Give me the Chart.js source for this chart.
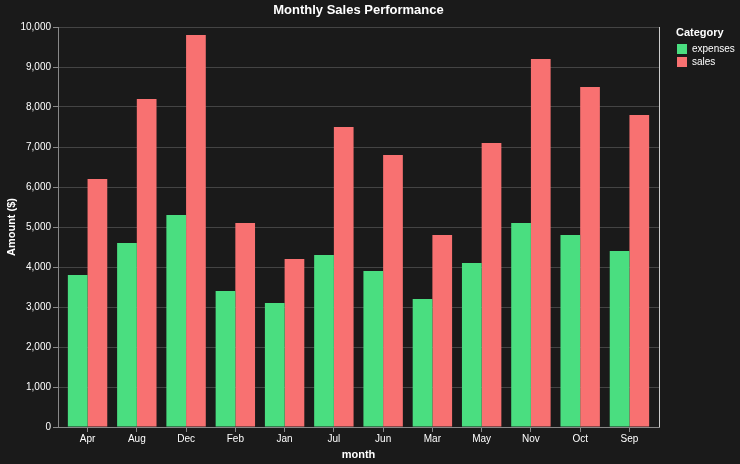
<!DOCTYPE html>
<html>
<head>
<meta charset="utf-8">
<script src="https://cdn.jsdelivr.net/npm/chart.js@4"></script>
<style>
    html, body { margin: 0; padding: 0; background: #1a1a1a; }
    #wrap { width: 740px; height: 464px; position: relative; }
</style>
</head>
<body>
<div id="wrap"><canvas id="myChart"></canvas></div>
<script>
const months = ['Apr', 'Aug', 'Dec', 'Feb', 'Jan', 'Jul', 'Jun', 'Mar', 'May', 'Nov', 'Oct', 'Sep'];
const expenses = [3800, 4600, 5300, 3400, 3100, 4300, 3900, 3200, 4100, 5100, 4800, 4400];
const sales = [6200, 8200, 9800, 5100, 4200, 7500, 6800, 4800, 7100, 9200, 8500, 7800];

const titleText = 'Monthly Sales Performance';
const legendTitle = 'Category';
const fontFamily = 'Arial, "Liberation Sans", sans-serif';

// posición de cada mes en el eje x (escala lineal para dejar margen exterior)
const monthIndex = months.map(function(m, i) { return i; });

// título centrado sobre el área, leyenda a la derecha y borde derecho claro
const decorations = {
    id: 'decorations',
    afterDraw(chart) {
        const a = chart.chartArea;
        const ctx = chart.ctx;
        ctx.save();
        ctx.strokeStyle = '#cccccc';
        ctx.lineWidth = 1;
        ctx.beginPath();
        ctx.moveTo(Math.round(a.right) + 0.5, a.top);
        ctx.lineTo(Math.round(a.right) + 0.5, a.bottom);
        ctx.stroke();

        ctx.fillStyle = '#ffffff';
        ctx.textBaseline = 'middle';
        ctx.textAlign = 'center';
        ctx.font = 'bold 13px ' + fontFamily;
        ctx.fillText(titleText, (a.left + a.right) / 2, a.top - 17);

        let lx = a.right + 17;
        ctx.textAlign = 'left';
        ctx.font = 'bold 11px ' + fontFamily;
        ctx.fillText(legendTitle, lx, a.top + 6);
        ctx.font = '10px ' + fontFamily;
        chart.data.datasets.forEach(function(ds, i) {
            let y = a.top + 17 + i * 13;
            ctx.fillStyle = ds.backgroundColor;
            ctx.fillRect(lx + 1, y, 10, 10);
            ctx.fillStyle = '#ffffff';
            ctx.fillText(ds.label, lx + 16, y + 5);
        });
        ctx.restore();
    }
};

Chart.defaults.font.family = fontFamily;
Chart.defaults.color = '#ffffff';

let ctx = document.getElementById('myChart').getContext('2d');
new Chart(ctx, {
    type: 'bar',
    data: {
        labels: monthIndex,
        datasets: [
            {
                label: 'expenses',
                data: expenses,
                backgroundColor: '#4ade80',
                borderWidth: 0
            }, {
                label: 'sales',
                data: sales,
                backgroundColor: '#f87171',
                borderWidth: 0
            }
        ]
    },
    options: {
        responsive: true,
        maintainAspectRatio: false,
        animation: false,
        layout: { padding: { top: 27, right: 81, left: 0, bottom: 2 } },
        datasets: {
            bar: { categoryPercentage: 0.8, barPercentage: 1.0 }
        },
        plugins: {
            legend: { display: false },
            tooltip: { enabled: false }
        },
        scales: {
            x: {
                type: 'linear',
                min: -0.6,
                max: 11.6,
                offset: false,
                afterFit: function(scale) { scale.height = 35; },
                grid: {
                    display: true,
                    offset: false,
                    drawOnChartArea: false,
                    drawTicks: true,
                    tickLength: 5,
                    color: '#888888'
                },
                border: { color: '#888888' },
                ticks: {
                    stepSize: 1,
                    includeBounds: false,
                    autoSkip: false,
                    maxRotation: 0,
                    color: '#ffffff',
                    font: { size: 10 },
                    padding: 1,
                    callback: function(v) { return months[v]; }
                },
                title: {
                    display: true,
                    text: 'month',
                    color: '#ffffff',
                    font: { size: 11, weight: 'bold' },
                    padding: { top: 0, bottom: 0 }
                }
            },
            y: {
                min: 0,
                max: 10000,
                afterFit: function(scale) { scale.width = 58; },
                ticks: {
                    stepSize: 1000,
                    color: '#ffffff',
                    font: { size: 10 },
                    padding: 2,
                    callback: function(v) { return v.toLocaleString('en-US'); }
                },
                grid: {
                    color: '#444444',
                    tickColor: '#888888',
                    tickLength: 5
                },
                border: { color: '#888888' },
                title: {
                    display: true,
                    text: 'Amount ($)',
                    color: '#ffffff',
                    font: { size: 11, weight: 'bold' },
                    padding: { top: 5, bottom: 0 }
                }
            }
        }
    },
    plugins: [decorations]
});
</script>
</body>
</html>
